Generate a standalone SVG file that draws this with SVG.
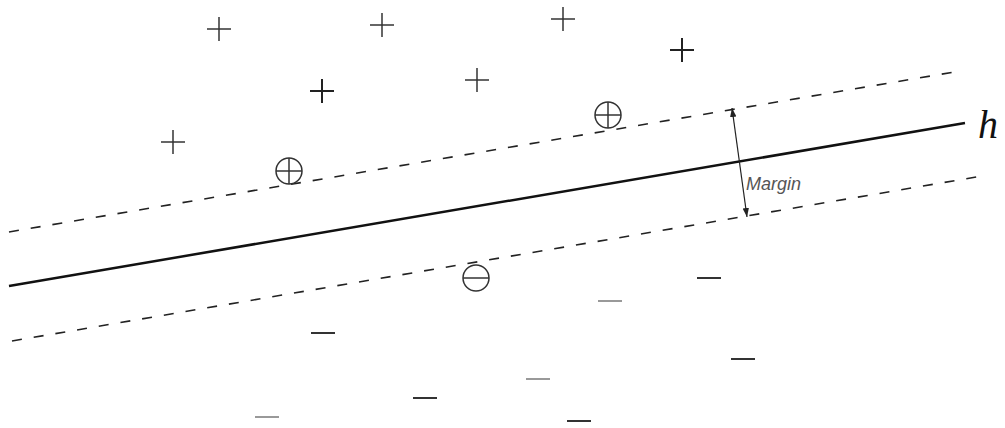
<svg xmlns="http://www.w3.org/2000/svg" width="1005" height="428" viewBox="0 0 1005 428">
<style>
.sym{stroke:#333;stroke-width:1.5;fill:none}
.thick{stroke:#222;stroke-width:2}
.minus{stroke:#333;stroke-width:2;fill:none}
.light{stroke:#777;stroke-width:1.5}
.dash{stroke:#222;stroke-width:1.6;stroke-dasharray:10 12;fill:none}
.solid{stroke:#111;stroke-width:2.5;fill:none}
.arrow{stroke:#222;stroke-width:1.2;fill:none}
</style>
<defs>
<marker id="ah" markerWidth="10" markerHeight="8" refX="9" refY="4" orient="auto-start-reverse" markerUnits="userSpaceOnUse">
<path d="M0,0.8 L9,4 L0,7.2 Z" fill="#222"/>
</marker>
<g id="plus"><line x1="-12" y1="0" x2="12" y2="0"/><line x1="0" y1="-12" x2="0" y2="12"/></g>
</defs>
<rect width="1005" height="428" fill="#fff"/>
<g id="connectors">
<line class="solid" x1="9" y1="286" x2="965" y2="123"/>
<line class="dash" x1="9" y1="232" x2="960" y2="71"/>
<line class="dash" x1="12" y1="341" x2="982" y2="176"/>
<line class="arrow" x1="732" y1="108" x2="747" y2="217" marker-start="url(#ah)" marker-end="url(#ah)"/>
</g>
<g id="pluses" class="sym">
<use href="#plus" x="219" y="29"/>
<use href="#plus" x="382" y="25"/>
<use href="#plus" x="563" y="19"/>
<use href="#plus" x="682" y="50" class="thick"/>
<use href="#plus" x="322" y="91" class="thick"/>
<use href="#plus" x="477" y="80"/>
<use href="#plus" x="173" y="142"/>
</g>
<g id="sv-plus-1" class="sym"><circle cx="289" cy="171" r="13"/><line x1="276" y1="171" x2="302" y2="171"/><line x1="289" y1="158" x2="289" y2="184"/></g>
<g id="sv-plus-2" class="sym"><circle cx="608" cy="115" r="13"/><line x1="595" y1="115" x2="621" y2="115"/><line x1="608" y1="102" x2="608" y2="128"/></g>
<g id="sv-minus" class="sym"><circle cx="476" cy="278" r="13"/><line x1="463" y1="278" x2="489" y2="278"/></g>
<g id="minuses" class="minus">
<line x1="697" y1="278" x2="721" y2="278"/>
<line x1="598" y1="301" x2="622" y2="301" class="light"/>
<line x1="311" y1="333" x2="335" y2="333"/>
<line x1="731" y1="359" x2="755" y2="359"/>
<line x1="526" y1="379" x2="550" y2="379" class="light"/>
<line x1="413" y1="398" x2="437" y2="398"/>
<line x1="255" y1="417" x2="279" y2="417" class="light"/>
<line x1="567" y1="421" x2="591" y2="421"/>
</g>
<g id="labels">
<text x="746" y="190" font-family="Liberation Sans, Arial, sans-serif" font-style="italic" font-size="18" fill="#555">Margin</text>
<text x="978" y="138" font-family="Liberation Serif, Times New Roman, serif" font-style="italic" font-size="40" fill="#111">h</text>
</g>
</svg>
